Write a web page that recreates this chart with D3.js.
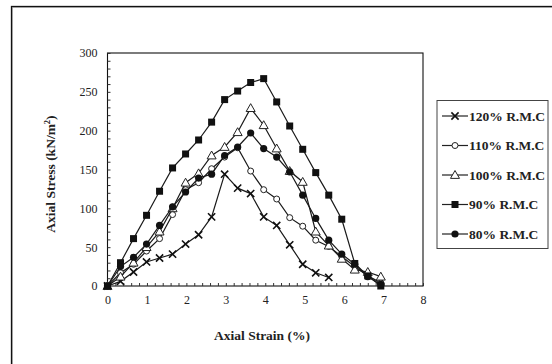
<!DOCTYPE html>
<html>
<head>
<meta charset="utf-8">
<script src="https://cdn.jsdelivr.net/npm/d3@7"></script>
<style>
  body { margin: 0; background: #fff; }
  svg text { font-family: "Liberation Serif", "Times New Roman", serif; fill: #222; }
</style>
</head>
<body>
<div id="chart"></div>
<script>
// axial strain (%) readings, same for every test
var strain = [0, 0.33, 0.66, 0.99, 1.32, 1.65, 1.98, 2.31, 2.64, 2.97, 3.30,
              3.63, 3.96, 4.29, 4.62, 4.95, 5.28, 5.61, 5.94, 6.27, 6.60, 6.93];

// axial stress (kN/m2) per moisture content
var rmc120 = [0, 6, 18, 31, 36, 41, 54, 66, 89, 144, 126, 119, 89, 78, 53, 28, 17, 11];
var rmc110 = [0, 17, 28, 45, 61, 92, 124, 133, 151, 166, 178, 148, 124, 112, 88, 77, 59, 51, 38, 25, 13, 4];
var rmc100 = [0, 12, 30, 50, 70, 100, 133, 145, 168, 179, 198, 229, 207, 177, 148, 134, 70, 52, 35, 21, 18, 12];
var rmc90  = [0, 30, 61, 91, 122, 152, 170, 188, 211, 240, 251, 262, 267, 237, 206, 176, 146, 117, 86, 29, 13, 0];
var rmc80  = [0, 25, 37, 54, 78, 102, 121, 139, 144, 168, 179, 197, 177, 166, 147, 117, 87, 59, 41, 28, 12, 2];

var labels = ["120% R.M.C", "110% R.M.C", "100% R.M.C", "90% R.M.C", "80% R.M.C"];
var markers = ["cross", "opencircle", "triangle", "square", "circle"];
var xTicks = [0, 1, 2, 3, 4, 5, 6, 7, 8];
var yTicks = [0, 50, 100, 150, 200, 250, 300];

var series = [rmc120, rmc110, rmc100, rmc90, rmc80].map(function(vals, i) {
    return {
        name: labels[i],
        marker: markers[i],
        points: vals.map(function(v, j) { return [strain[j], v]; })
    };
});

var W = 552, H = 364;
var svg = d3.select("#chart").append("svg")
    .attr("width", W)
    .attr("height", H);

// outer frame (clipped at right/bottom like the original)
svg.append("rect")
    .attr("x", 12.5).attr("y", 7.5)
    .attr("width", 600).attr("height", 400)
    .attr("fill", "none")
    .attr("stroke", "#bbb")
    .attr("stroke-width", 1);
svg.append("rect")
    .attr("x", 11.5).attr("y", 6.5)
    .attr("width", 600).attr("height", 400)
    .attr("fill", "none")
    .attr("stroke", "#111")
    .attr("stroke-width", 1.3);

var plot = {left: 107.5, right: 423, top: 53, bottom: 286};

var x = d3.scaleLinear().domain([0, 8]).range([plot.left, plot.right]);
var y = d3.scaleLinear().domain([0, 300]).range([plot.bottom, plot.top]);

// plot box
svg.append("rect")
    .attr("x", plot.left).attr("y", plot.top)
    .attr("width", plot.right - plot.left)
    .attr("height", plot.bottom - plot.top)
    .attr("fill", "none")
    .attr("stroke", "#111")
    .attr("stroke-width", 1.1);

// minor ticks (inside)
var xAxis = d3.axisTop(x).tickValues(d3.range(0, 8.01, 0.2)).tickSize(3).tickFormat("");
svg.append("g")
    .attr("transform", "translate(0," + plot.bottom + ")")
    .call(xAxis)
    .call(function(g) { g.select(".domain").remove(); });

var yAxis = d3.axisRight(y).tickValues(d3.range(0, 301, 10)).tickSize(3).tickFormat("");
svg.append("g")
    .attr("transform", "translate(" + plot.left + ",0)")
    .call(yAxis)
    .call(function(g) { g.select(".domain").remove(); });

svg.selectAll(".tick line").attr("stroke", "#333");

// tick labels
var xLab = d3.axisBottom(x).tickValues(xTicks).tickSize(0).tickPadding(9);
svg.append("g")
    .attr("transform", "translate(0," + plot.bottom + ")")
    .call(xLab)
    .call(function(g) {
        g.select(".domain").remove();
        g.selectAll("text").attr("font-size", 12).attr("font-family", "Liberation Serif");
    });

var yLab = d3.axisLeft(y).tickValues(yTicks).tickSize(0).tickPadding(10);
svg.append("g")
    .attr("transform", "translate(" + plot.left + ",0)")
    .call(yLab)
    .call(function(g) {
        g.select(".domain").remove();
        g.selectAll("text").attr("font-size", 12).attr("font-family", "Liberation Serif");
    });

// axis titles
svg.append("text")
    .attr("x", 262).attr("y", 340)
    .attr("text-anchor", "middle")
    .attr("font-size", 13.5)
    .attr("font-weight", "bold")
    .text("Axial Strain (%)");

var yt = svg.append("text")
    .attr("transform", "translate(55,174) rotate(-90)")
    .attr("text-anchor", "middle")
    .attr("font-size", 13.5)
    .attr("font-weight", "bold");
yt.append("tspan").text("Axial Stress (kN/m");
yt.append("tspan").attr("font-size", 8.5).attr("dy", -5).text("2");
yt.append("tspan").attr("dy", 5).text(")");

function drawMarker(g, type, cx, cy) {
    if (type === "square") {
        g.append("rect").attr("x", cx - 3.5).attr("y", cy - 3.5)
            .attr("width", 7).attr("height", 7).attr("fill", "#111");
    } else if (type === "circle") {
        g.append("circle").attr("cx", cx).attr("cy", cy).attr("r", 3.6).attr("fill", "#111");
    } else if (type === "opencircle") {
        g.append("circle").attr("cx", cx).attr("cy", cy).attr("r", 3)
            .attr("fill", "#fff").attr("stroke", "#222").attr("stroke-width", 1);
    } else if (type === "triangle") {
        var s = 4.5;
        g.append("path")
            .attr("d", "M" + cx + "," + (cy - s) + "L" + (cx + s) + "," + (cy + s * 0.75) +
                "L" + (cx - s) + "," + (cy + s * 0.75) + "Z")
            .attr("fill", "#fff").attr("stroke", "#222").attr("stroke-width", 1);
    } else if (type === "cross") {
        var c = 3.6;
        g.append("path")
            .attr("d", "M" + (cx - c) + "," + (cy - c) + "L" + (cx + c) + "," + (cy + c) +
                "M" + (cx - c) + "," + (cy + c) + "L" + (cx + c) + "," + (cy - c))
            .attr("stroke", "#111").attr("stroke-width", 1.6).attr("fill", "none");
    }
}

var line = d3.line()
    .x(function(d) { return x(d[0]); })
    .y(function(d) { return y(d[1]); });

series.forEach(function(s) {
    var g = svg.append("g");
    g.append("path")
        .datum(s.points)
        .attr("d", line)
        .attr("fill", "none")
        .attr("stroke", "#1a1a1a")
        .attr("stroke-width", 1.2);
    s.points.forEach(function(p) {
        drawMarker(g, s.marker, x(p[0]), y(p[1]));
    });
});

// legend
var lg = svg.append("g");
lg.append("rect")
    .attr("x", 437).attr("y", 100.5)
    .attr("width", 111).attr("height", 148)
    .attr("fill", "#fff")
    .attr("stroke", "#444")
    .attr("stroke-width", 1);

series.forEach(function(s, i) {
    var ly = 116 + i * 29.5;
    lg.append("line")
        .attr("x1", 442).attr("x2", 468)
        .attr("y1", ly).attr("y2", ly)
        .attr("stroke", "#222").attr("stroke-width", 1.2);
    drawMarker(lg, s.marker, 455, ly);
    lg.append("text")
        .attr("x", 469).attr("y", ly + 4.5)
        .attr("font-size", 13.5)
        .attr("font-weight", "bold")
        .text(s.name);
});
</script>
</body>
</html>
